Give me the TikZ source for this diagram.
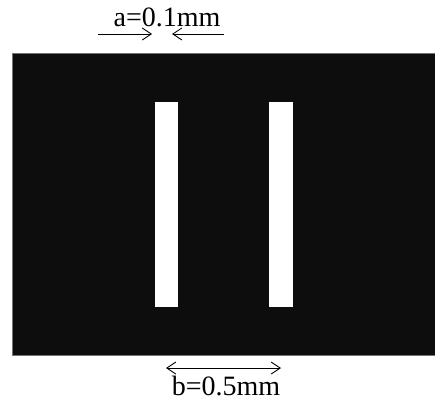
\documentclass[tikz,border=0pt]{standalone}
\usepackage{fontspec}
\setmainfont{Liberation Serif}
\definecolor{plateBlack}{HTML}{0D0D0D}
\usetikzlibrary{arrows.meta, positioning}

\begin{document}
\begin{tikzpicture}[
    x=1pt, y=-1pt,
    plate/.style={fill=plateBlack, draw=black!55, line width=0.6pt},
    slit/.style={fill=white, draw=none},
    dim/.style={-{Straight Barb[length=9pt, width=12pt]}, line width=0.9pt, black},
    label/.style={font=\fontsize{28}{30}\selectfont, anchor=base, inner sep=0pt}
  ]
    \useasboundingbox (0,0) rectangle (435,401);
    % plate with the two slits
    \draw[plate] (12,53) rectangle (436,355);
    \fill[slit] (155,102) rectangle (178,307);
    \fill[slit] (269,102) rectangle (293,307);
    % slit width a
    \node[label] (alabel) at (167,27) {a=0.1mm};
    \coordinate (aleftfrom) at (98,34);
    \coordinate (alefttip) at (152,34);
    \coordinate (arightfrom) at (224,34);
    \coordinate (arighttip) at (172,34);
    \draw[dim] (aleftfrom) -- (alefttip);
    \draw[dim] (arightfrom) -- (arighttip);
    % slit spacing b
    \coordinate (bleft) at (166,368);
    \coordinate (bright) at (281,368);
    \draw[dim, {Straight Barb[length=9pt, width=12pt]}-{Straight Barb[length=9pt, width=12pt]}] (bleft) -- (bright);
    \node[label] (blabel) at (226,395) {b=0.5mm};
  \end{tikzpicture}
\end{document}
